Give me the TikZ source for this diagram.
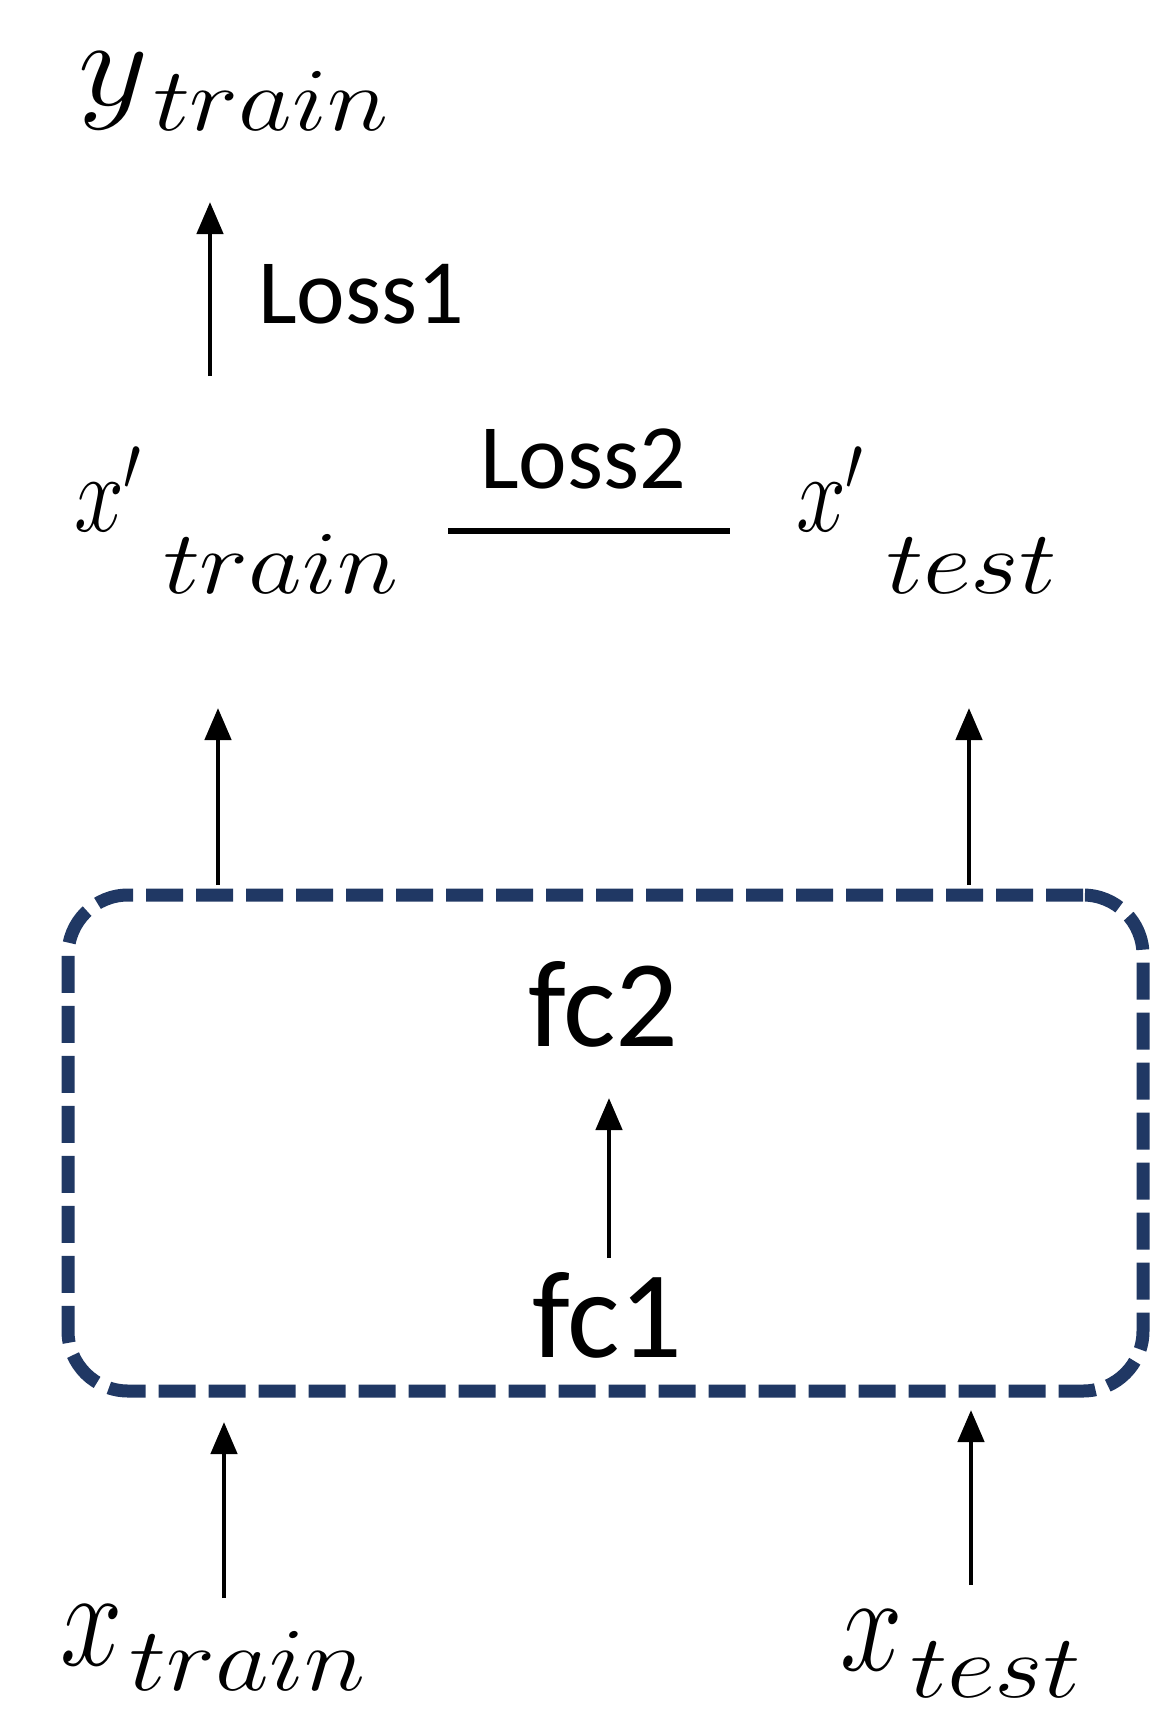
\RequirePackage{fix-cm}
\documentclass[tikz,border=0pt]{standalone}
\usepackage{fontspec}
\newfontfamily\cali{Carlito}
\usepackage{graphicx}
\usetikzlibrary{arrows.meta}
\definecolor{navy}{HTML}{203864}
% main size, main xscale, main, sub offset, sub drop, sub xscale, sub
\newcommand\mylbl[7]{\rlap{\fontsize{#1}{#1}\selectfont\scalebox{#2}[1]{$#3$}}\hspace{#4}\raisebox{-#5}{\fontsize{45}{45}\selectfont\scalebox{#6}[1]{$#7$}}}
\tikzset{
  txt/.style={inner sep=0pt, outer sep=0pt, anchor=base west},
  cal/.style={txt, font=\cali\fontsize{46}{46}\selectfont},
  calbig/.style={txt, font=\cali\fontsize{62}{62}\selectfont},
  arr/.style={line width=2.3pt, -{Triangle[length=16pt,width=13pt]}},
  lossline/.style={line width=2.6pt},
  encbox/.style={draw=navy, line width=6.5pt, dash pattern=on 18.5pt off 6.5pt,
    rounded corners=30pt, minimum width=537.5pt, minimum height=248pt, inner sep=0pt}
}
\begin{document}
\begin{tikzpicture}[x=0.5pt,y=-0.5pt]
\useasboundingbox (0,0) rectangle (1175,1735);
% labels
\node[txt] (ytr) at (78,105) {\mylbl{62}{1.1}{y}{37.5pt}{12.5pt}{1.16}{train}};
\node[cal] (l1) at (258,323) {Loss1};
\node[txt] (xptr) at (74,531) {\mylbl{56}{0.8}{x'}{44.5pt}{31pt}{1.16}{train}};
\node[cal] (l2) at (480,488) {Loss2};
\node[txt] (xpte) at (796,531) {\mylbl{56}{0.8}{x'}{45pt}{31pt}{1.17}{test}};
\node[encbox] (enc) at (605.5,1143) {};
\node[calbig] (fc2) at (528,1046) {fc2};
\node[calbig] (fc1) at (532,1357) {fc1};
\node[txt] (xtr) at (60,1665) {\mylbl{70}{0.8}{x}{35pt}{12.5pt}{1.16}{train}};
\node[txt] (xte) at (840,1670) {\mylbl{70}{0.8}{x}{35pt}{13.5pt}{1.17}{test}};
% connector end points
\coordinate (l1s) at (210,376); \coordinate (l1e) at (210,202);
\coordinate (l2a) at (448,531); \coordinate (l2b) at (730,531);
\coordinate (u1s) at (218,885); \coordinate (u1e) at (218,708);
\coordinate (u2s) at (969,885); \coordinate (u2e) at (969,708);
\coordinate (ins) at (609,1258); \coordinate (ine) at (609,1098);
\coordinate (b1s) at (224,1598); \coordinate (b1e) at (224,1422);
\coordinate (b2s) at (971,1585); \coordinate (b2e) at (971,1410);
% connectors
\draw[arr] (l1s) -- (l1e);
\draw[lossline] (l2a) -- (l2b);
\draw[arr] (u1s) -- (u1e);
\draw[arr] (u2s) -- (u2e);
\draw[arr] (ins) -- (ine);
\draw[arr] (b1s) -- (b1e);
\draw[arr] (b2s) -- (b2e);
\end{tikzpicture}
\end{document}
